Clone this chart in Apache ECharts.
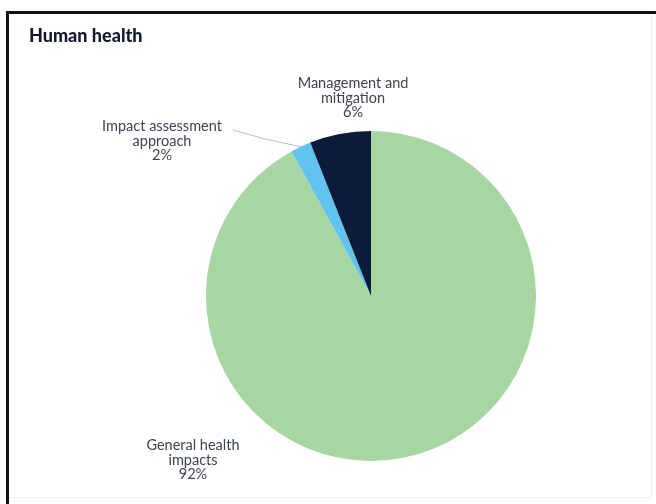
<!DOCTYPE html>
<html>
<head>
<meta charset="utf-8">
<script src="https://cdn.jsdelivr.net/npm/echarts@6/dist/echarts.min.js"></script>
<style>
  html, body { margin: 0; padding: 0; background: #ffffff; }
  #chart { width: 656px; height: 504px; }
</style>
</head>
<body>
<div id="chart"></div>
<script>
// Share of human-health topics
const categories = ['General health\nimpacts', 'Impact assessment\napproach', 'Management and\nmitigation'];
const shares = [92, 2, 6];
const sliceColors = ['#a8d6a3', '#62c3ee', '#0c1b3a'];

// Where each label block sits (centre of the text block)
const labelAnchors = [[193, 460], [162, 141], [353, 98]];
const leaderBend = [265, 139];

const chart = echarts.init(document.getElementById('chart'), null, { renderer: 'canvas' });

const data = categories.map((name, i) => ({
  name: name,
  value: shares[i],
  itemStyle: { color: sliceColors[i] },
  labelLine: { show: i === 1 }
}));

chart.setOption({
  backgroundColor: '#ffffff',
  animation: false,
  title: {
    text: 'Human health',
    left: 24,
    top: 22,
    textStyle: {
      fontFamily: 'Lato',
      fontWeight: 900,
      fontSize: 18,
      color: '#111a30'
    }
  },
  graphic: [
    // heavy frame on top and left, faint on right and bottom
    { type: 'rect', shape: { x: 6, y: 11, width: 650, height: 3 }, style: { fill: '#111111' } },
    { type: 'rect', shape: { x: 6, y: 11, width: 3, height: 493 }, style: { fill: '#111111' } },
    { type: 'rect', shape: { x: 651, y: 14, width: 1, height: 484 }, style: { fill: '#eeeeee' } },
    { type: 'rect', shape: { x: 9, y: 497, width: 642, height: 1 }, style: { fill: '#eeeeee' } }
  ],
  series: [{
    type: 'pie',
    center: [371, 296],
    radius: 165,
    startAngle: 90,
    clockwise: true,
    avoidLabelOverlap: false,
    data: data,
    itemStyle: { borderWidth: 0 },
    label: {
      show: true,
      position: 'outside',
      formatter: p => p.name + '\n' + p.value + '%',
      fontFamily: 'Lato',
      fontSize: 14.5,
      lineHeight: 14.5,
      color: '#3e4352',
      align: 'center'
    },
    labelLine: {
      show: false,
      length: 10,
      length2: 10,
      lineStyle: { color: '#b7bec6', width: 1 }
    },
    labelLayout: function (params) {
      const a = labelAnchors[params.dataIndex];
      const out = { x: a[0], y: a[1], align: 'center', verticalAlign: 'middle' };
      if (params.dataIndex === 1 && params.labelLinePoints) {
        out.labelLinePoints = [params.labelLinePoints[0], leaderBend, [233, 130]];
      }
      return out;
    }
  }]
});
</script>
</body>
</html>
